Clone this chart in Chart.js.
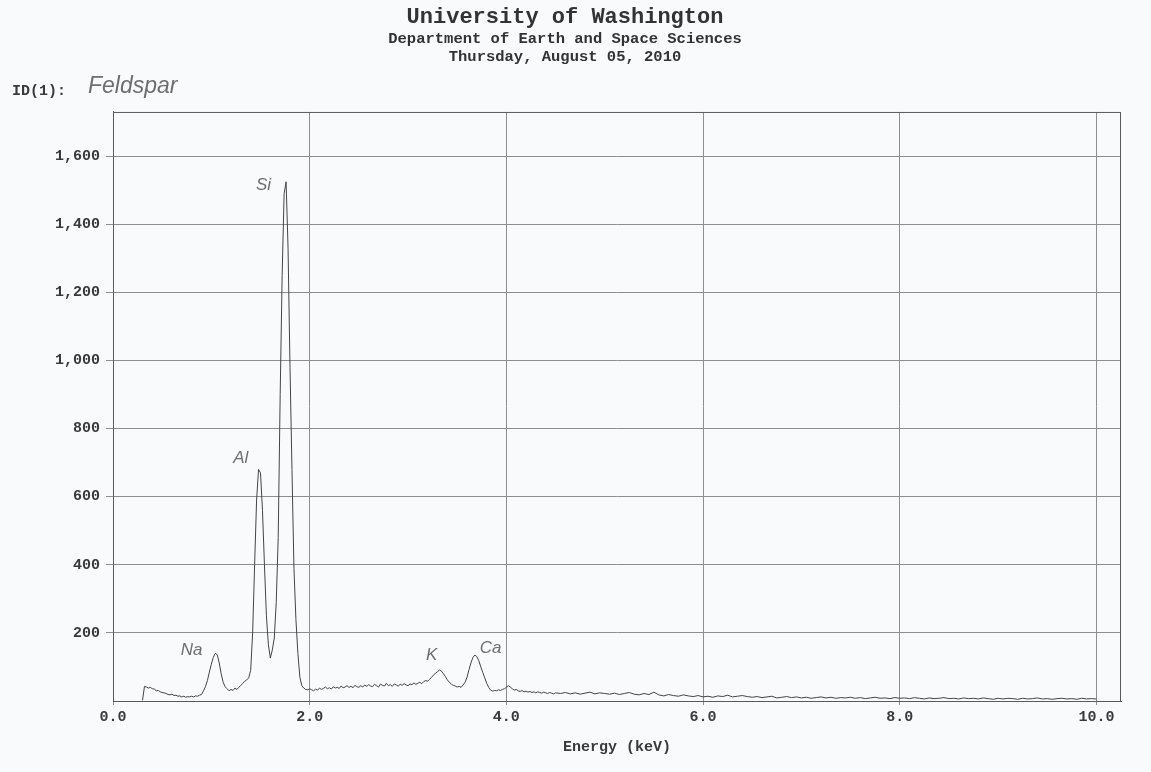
<!DOCTYPE html>
<html>
<head>
<meta charset="utf-8">
<title>Feldspar EDS spectrum</title>
<script src="https://cdn.jsdelivr.net/npm/chart.js"></script>
<style>
    html, body { margin: 0; padding: 0; background: #f9fafc; }
    canvas { display: block; }
</style>
</head>
<body>
<canvas id="myChart" width="1151" height="772"></canvas>
<script>
// spectrum: 0.30 - 4.50 keV every 0.02 keV
const lowStartKeV = 0.30;
const lowStepKeV = 0.02;
const lowCounts = [
    2, 43, 41, 38, 40, 36, 35, 30, 31, 27,
    25, 24, 22, 19, 18, 20, 16, 17, 14, 15,
    12, 14, 11, 13, 12, 14, 12, 15, 14, 17,
    19, 30, 42, 60, 85, 108, 128, 140, 136, 112,
    80, 55, 42, 36, 30, 34, 31, 38, 34, 40,
    46, 52, 58, 62, 68, 90, 200, 400, 590, 680,
    670, 560, 400, 250, 165, 126, 150, 185, 290, 480,
    900, 1250, 1490, 1525, 1330, 980, 680, 390, 240, 140,
    70, 45, 38, 34, 33, 36, 33, 30, 35, 32,
    38, 34, 37, 41, 36, 39, 35, 42, 38, 40,
    37, 44, 39, 41, 45, 40, 43, 39, 46, 42,
    40, 45, 41, 47, 43, 48, 44, 42, 49, 45,
    41, 50, 46, 44, 52, 45, 48, 43, 50, 47,
    44, 49, 46, 51, 47, 45, 50, 48, 53, 49,
    52, 55, 51, 57, 60, 58, 64, 70, 76, 82,
    86, 91, 88, 80, 72, 62, 55, 50, 46, 44,
    41, 43, 40, 47, 55, 70, 92, 112, 128, 135,
    130, 118, 100, 84, 68, 52, 40, 32, 29, 31,
    30, 33, 31, 34, 36, 40, 45, 41, 36, 32,
    34, 30, 28, 31, 27, 29, 26, 28, 25, 27,
    24, 27, 25, 23, 26, 24, 22, 25, 23, 21,
    24
];

// tail 4.55 - 10.00 keV every 0.05 keV
const tailStartKeV = 4.55;
const tailStepKeV = 0.05;
const tailCounts = [
    22, 25, 21, 24, 20, 23, 26, 21, 24, 22,
    20, 23, 19, 22, 25, 20, 18, 22, 19, 26,
    18, 15, 19, 16, 14, 18, 15, 13, 16, 12,
    14, 11, 15, 13, 17, 12, 14, 16, 13, 11,
    13, 10, 12, 14, 9, 11, 13, 10, 12, 9,
    11, 8, 10, 12, 9, 11, 8, 10, 9, 11,
    8, 10, 7, 9, 11, 8, 9, 7, 10, 8,
    9, 7, 10, 8, 6, 9, 7, 8, 10, 7,
    8, 6, 9, 7, 8, 6, 9, 7, 5, 8,
    6, 8, 7, 5, 8, 6, 7, 9, 6, 7,
    5, 7, 8, 6, 7, 5, 8, 6, 7, 6
];

const xTicks = [0, 2, 4, 6, 8, 10];
const yTicks = [200, 400, 600, 800, 1000, 1200, 1400, 1600];

// pencil notes written next to the peaks (keV, counts)
const peakNames = ['Na', 'Al', 'Si', 'K', 'Ca'];
const peakNoteKeV = [0.80, 1.30, 1.53, 3.24, 3.84];
const peakNoteCounts = [148, 713, 1516, 134, 154];

const sampleId = 'Feldspar';

const spectrum = [];
lowCounts.forEach((c, i) => spectrum.push({x: +(lowStartKeV + i * lowStepKeV).toFixed(2), y: c}));
tailCounts.forEach((c, i) => spectrum.push({x: +(tailStartKeV + i * tailStepKeV).toFixed(2), y: c}));

const mono = '"Liberation Mono", "Courier New", monospace';
const ink = '#3a3a3a';
const pencil = '#6e6e6e';

const paper = {
    id: 'paper',
    beforeDraw(chart) {
        const c = chart.ctx;
        c.save();
        c.fillStyle = '#f9fafc';
        c.fillRect(0, 0, chart.width, chart.height);
        c.restore();
    },
    afterDraw(chart) {
        const c = chart.ctx;
        const a = chart.chartArea;
        const x = chart.scales.x;
        const y = chart.scales.y;
        c.save();
        // frame round the plot
        c.strokeStyle = '#5a5a5a';
        c.lineWidth = 1;
        c.strokeRect(a.left + 0.5, a.top + 0.5, a.right - a.left - 1, a.bottom - a.top);

        c.fillStyle = ink;
        c.font = 'bold 15px ' + mono;
        c.textAlign = 'left';
        c.textBaseline = 'middle';
        c.fillText('ID(1):', a.left - 101, a.top - 21);

        c.fillStyle = pencil;
        c.font = 'italic 23px "Liberation Sans", sans-serif';
        c.fillText(sampleId, a.left - 25, a.top - 25);

        c.font = 'italic 17px "Liberation Sans", sans-serif';
        c.textAlign = 'center';
        peakNames.forEach((n, i) => {
            c.fillText(n, x.getPixelForValue(peakNoteKeV[i]), y.getPixelForValue(peakNoteCounts[i]));
        });
        c.restore();
    }
};

const ctx = document.getElementById('myChart').getContext('2d');

const myChart = new Chart(ctx, {
    type: 'line',
    data: {
        datasets: [{
            label: 'Counts',
            data: spectrum,
            borderColor: '#444444',
            borderWidth: 1,
            pointRadius: 0,
            tension: 0,
            fill: false
        }]
    },
    options: {
        responsive: false,
        animation: false,
        devicePixelRatio: 1,
        layout: {
            padding: {left: 9, right: 30, top: 0, bottom: 0}
        },
        plugins: {
            legend: {display: false},
            tooltip: {enabled: false},
            title: {
                display: true,
                text: 'University of Washington',
                color: '#333333',
                font: {family: mono, size: 22, weight: 'bold', lineHeight: 1.2},
                padding: {top: 4, bottom: 0}
            },
            subtitle: {
                display: true,
                text: ['Department of Earth and Space Sciences', 'Thursday, August 05, 2010'],
                color: '#333333',
                font: {family: mono, size: 15.5, weight: 'bold', lineHeight: 1.16},
                padding: {top: 0, bottom: 45.6}
            }
        },
        scales: {
            x: {
                type: 'linear',
                min: 0,
                max: 10.25,
                afterBuildTicks: axis => { axis.ticks = xTicks.map(v => ({value: v})); },
                afterFit: axis => { axis.height = 71; },
                ticks: {
                    color: ink,
                    font: {family: mono, size: 15, weight: 'bold'},
                    padding: 3,
                    maxRotation: 0,
                    callback: v => v.toFixed(1)
                },
                grid: {color: '#8e8e8e', lineWidth: 1, tickLength: 4},
                border: {color: '#5a5a5a', width: 1},
                title: {
                    display: true,
                    text: 'Energy (keV)',
                    color: ink,
                    font: {family: mono, size: 15, weight: 'bold'},
                    padding: {top: 0, bottom: 16}
                }
            },
            y: {
                min: 0,
                max: 1730,
                afterBuildTicks: axis => { axis.ticks = yTicks.map(v => ({value: v})); },
                afterFit: axis => { axis.width = 104; },
                ticks: {
                    color: ink,
                    font: {family: mono, size: 15, weight: 'bold'},
                    padding: 6,
                    callback: v => v.toLocaleString('en-US')
                },
                grid: {color: '#8e8e8e', lineWidth: 1, tickLength: 7},
                border: {color: '#5a5a5a', width: 1}
            }
        }
    },
    plugins: [paper]
});
</script>
</body>
</html>
